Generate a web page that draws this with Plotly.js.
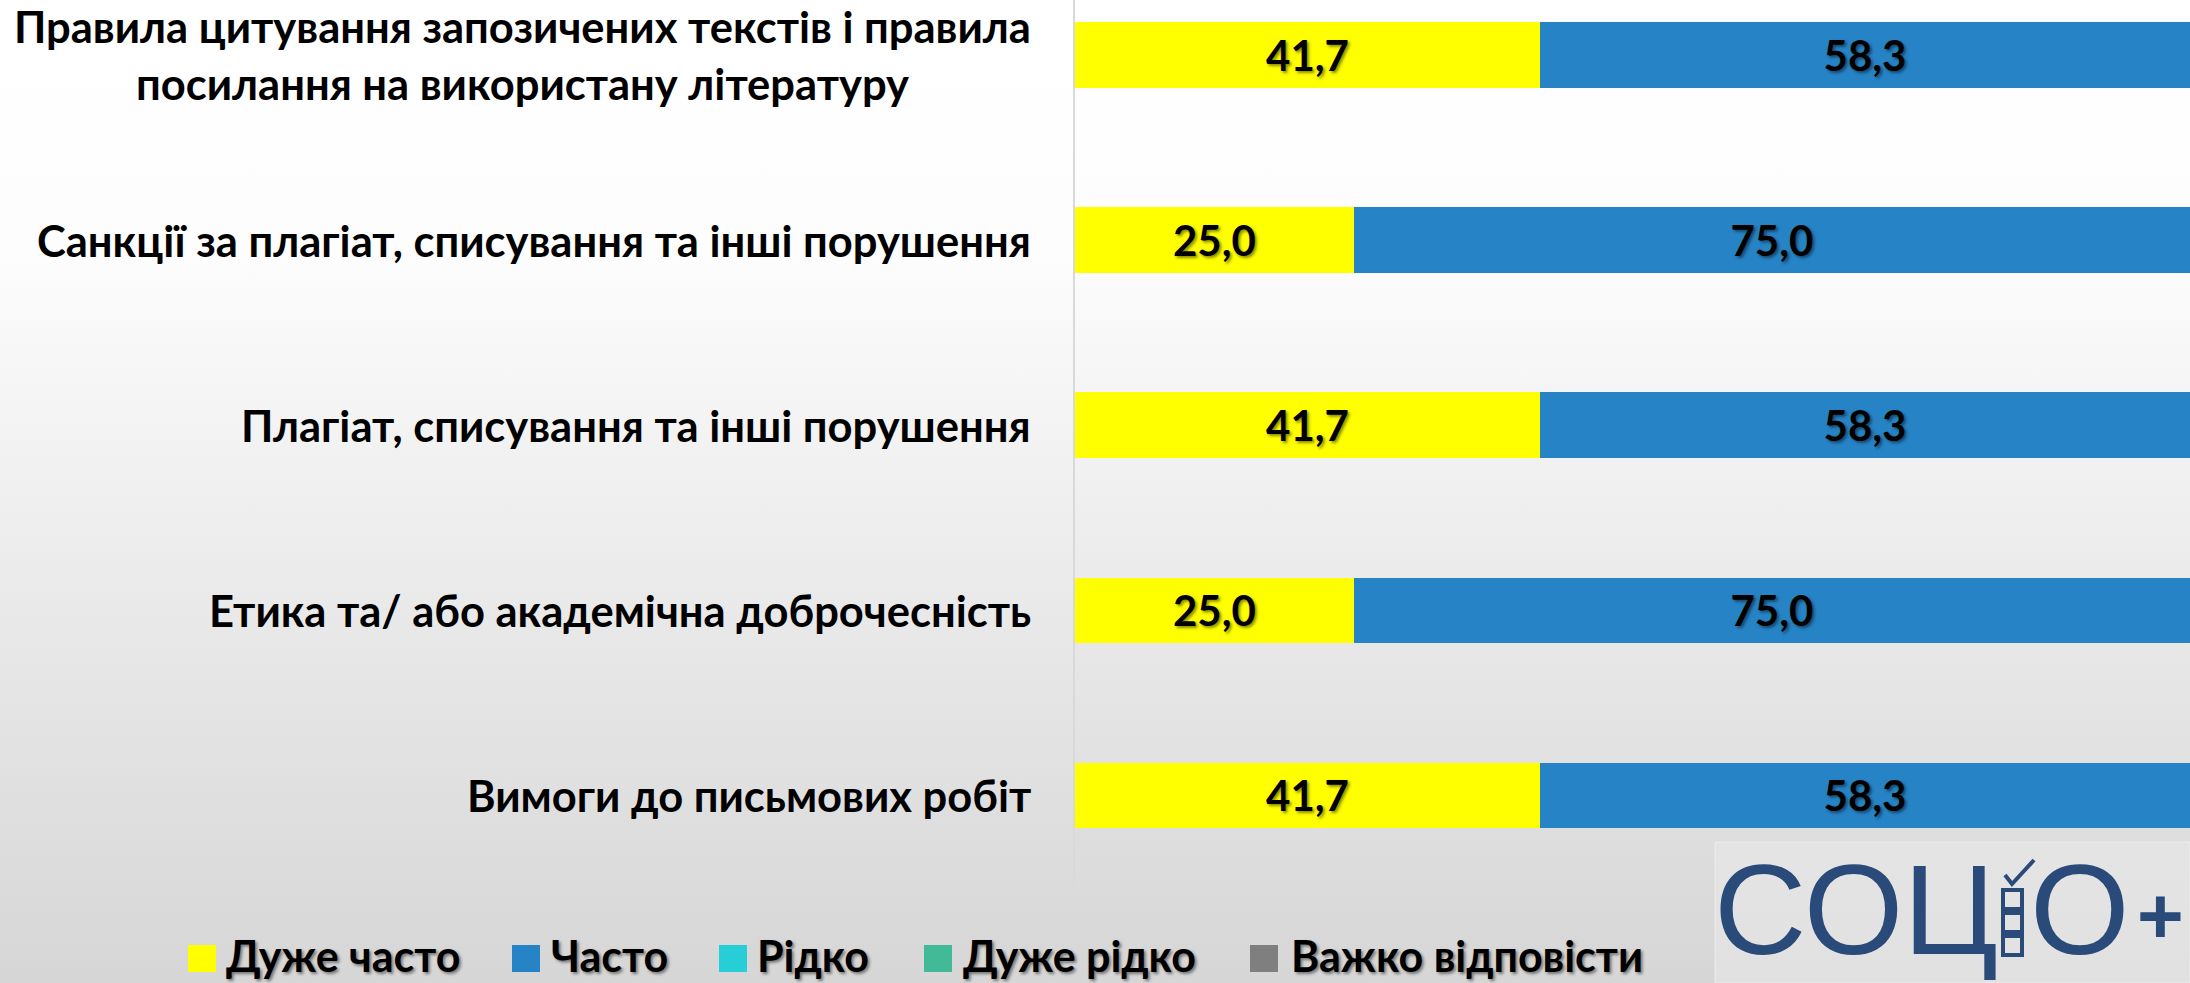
<!DOCTYPE html>
<html><head><meta charset="utf-8">
<script src="https://cdn.plot.ly/plotly-3.0.1.min.js"></script>
<style>
html,body{margin:0;padding:0;width:2190px;height:983px;overflow:hidden;
background:linear-gradient(to bottom,#ffffff 0%,#fdfdfd 25%,#e9e9e9 62%,#d6d6d6 100%);}
#chart{width:2190px;height:983px;}
</style></head><body><div id="chart"></div>
<script>
const categories = [
  'Правила цитування запозичених текстів і правила<br>посилання на використану літературу',
  'Санкції за плагіат, списування та інші порушення',
  'Плагіат, списування та інші порушення',
  'Етика та/ або академічна доброчесність',
  'Вимоги до письмових робіт'
];
const seriesNames = ['Дуже часто', 'Часто', 'Рідко', 'Дуже рідко', 'Важко відповісти'];
const seriesColors = ['#FFFF00', '#2683C6', '#27CED7', '#42BA97', '#7F7F7F'];
const veryOften  = [41.7, 25.0, 41.7, 25.0, 41.7];
const often      = [58.3, 75.0, 58.3, 75.0, 58.3];
const rarely     = [0, 0, 0, 0, 0];
const veryRarely = [0, 0, 0, 0, 0];
const hardToSay  = [0, 0, 0, 0, 0];
const seriesValues = [veryOften, often, rarely, veryRarely, hardToSay];

const W = 2190, H = 983;
const ML = 1075, MB = 95;
const PW = W - ML, PH = H - MB;
const FONT = 'Lato, "Open Sans", sans-serif';
const SHADOW = '2px 2px 3px rgba(0,0,0,0.45)';
const px2x = p => (p - ML) / PW;
const px2y = p => (PH - p) / PH;

const fmt = v => v > 0 ? v.toFixed(1).replace('.', ',') : '';

const traces = seriesValues.map((vals, i) => ({
  type: 'bar',
  orientation: 'h',
  name: seriesNames[i],
  x: vals,
  y: categories,
  marker: {color: seriesColors[i], line: {width: 0}},
  text: vals.map(fmt),
  textposition: 'inside',
  insidetextanchor: 'middle',
  textangle: 0,
  constraintext: 'none',
  textfont: {family: FONT, size: 42, weight: 700, color: '#000', shadow: SHADOW},
  hoverinfo: 'skip',
  showlegend: false
}));

const annotations = categories.map(c => ({
  xref: 'paper', yref: 'y', x: 0, y: c, xanchor: 'right', yanchor: 'middle',
  xshift: -42, text: c, showarrow: false, align: 'center',
  font: {family: FONT, size: 43.5, weight: 700, color: '#000'}
}));

const shapes = [];

// legend (drawn as shapes + annotations so the swatches match the reference size)
const legendSwatchLeft = [188, 512, 719, 924, 1250];
const legendTextLeft = [226, 551, 757, 963, 1291];
seriesNames.forEach((n, i) => {
  shapes.push({type: 'rect', xref: 'paper', yref: 'paper',
    x0: px2x(legendSwatchLeft[i]), x1: px2x(legendSwatchLeft[i] + 28),
    y0: px2y(972), y1: px2y(945), fillcolor: seriesColors[i], line: {width: 0}});
  annotations.push({xref: 'paper', yref: 'paper', x: px2x(legendTextLeft[i] - 2), y: px2y(983),
    xanchor: 'left', yanchor: 'bottom', text: n, showarrow: false,
    font: {family: FONT, size: 43, weight: 700, color: '#000', shadow: SHADOW}});
});

// logo
const logoColor = '#2a4a7a';
const LOGOFONT = '"Liberation Sans", Arial, sans-serif';
shapes.push({type: 'rect', xref: 'paper', yref: 'paper', x0: px2x(1715), x1: px2x(2190), y0: px2y(842), y1: px2y(983),
   fillcolor: 'rgba(236,236,236,0.5)', line: {color: 'rgba(245,245,245,0.6)', width: 1}, layer: 'below'});
annotations.push(
  {xref: 'paper', yref: 'paper', x: px2x(2000), y: px2y(983), xanchor: 'right', yanchor: 'bottom',
   text: 'СОЦ', showarrow: false, font: {family: LOGOFONT, size: 128, color: logoColor}},
  {xref: 'paper', yref: 'paper', x: px2x(2028), y: px2y(983), xanchor: 'left', yanchor: 'bottom',
   text: 'О', showarrow: false, font: {family: LOGOFONT, size: 128, color: logoColor}},
  {xref: 'paper', yref: 'paper', x: px2x(2160), y: px2y(916), xanchor: 'center', yanchor: 'middle',
   text: '+', showarrow: false, font: {family: LOGOFONT, size: 80, weight: 700, color: logoColor}}
);
[[890, 909], [913, 932], [936, 955]].forEach(([a, b]) => shapes.push({
  type: 'rect', xref: 'paper', yref: 'paper', x0: px2x(2003), x1: px2x(2022), y0: px2y(b), y1: px2y(a),
  line: {color: logoColor, width: 4}, fillcolor: 'rgba(0,0,0,0)'
}));
shapes.push({
  type: 'path', xref: 'paper', yref: 'paper',
  path: `M ${px2x(2005)} ${px2y(875)} L ${px2x(2012)} ${px2y(884)} L ${px2x(2034)} ${px2y(860)}`,
  line: {color: logoColor, width: 4}
});

const layout = {
  width: W, height: H,
  margin: {l: ML, r: 0, t: 0, b: MB, pad: 0},
  paper_bgcolor: 'rgba(0,0,0,0)',
  plot_bgcolor: 'rgba(0,0,0,0)',
  barmode: 'stack',
  bargap: 0.646,
  xaxis: {range: [0, 100], showgrid: false, zeroline: false, showline: false,
          showticklabels: false, ticks: '', fixedrange: true},
  yaxis: {type: 'category', range: [4.5, -0.297], showgrid: false, zeroline: false,
          showline: true, linecolor: '#d9d9d9', linewidth: 2, showticklabels: false, ticks: ''},
  showlegend: false,
  annotations: annotations,
  shapes: shapes
};

Plotly.newPlot('chart', traces, layout, {displayModeBar: false, staticPlot: true});
</script></body></html>
